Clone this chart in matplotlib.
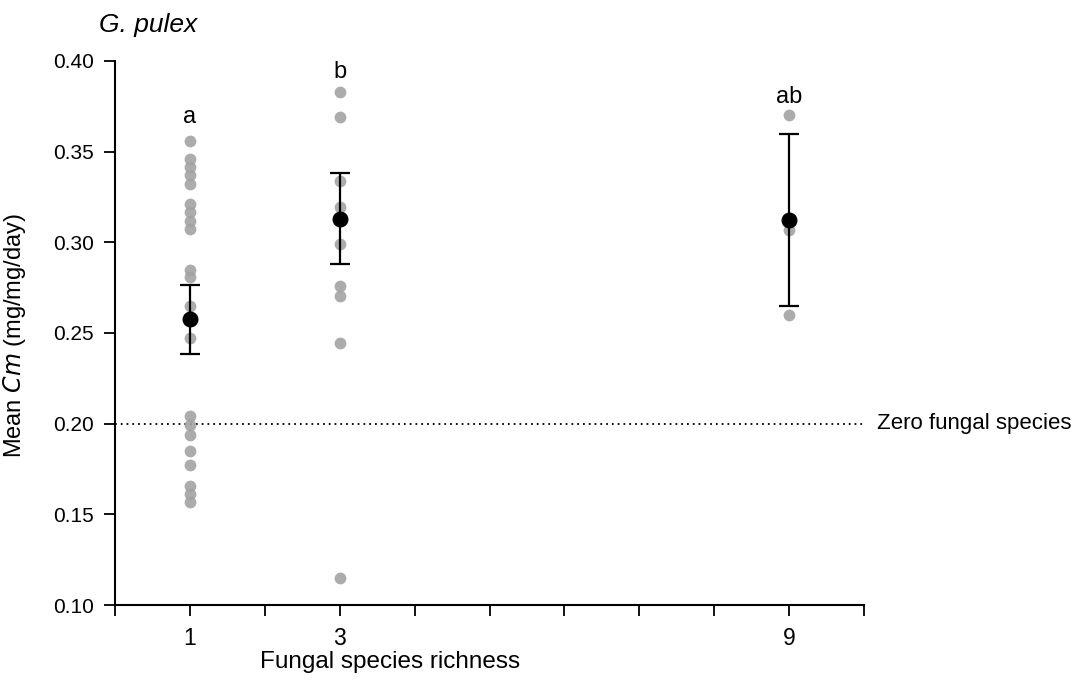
import numpy as np
import matplotlib.pyplot as plt

plt.rcParams['font.family'] = ['Liberation Sans', 'DejaVu Sans']

# raw replicate values (Cm, mg/mg/day)
richness = [1, 3, 9]
group1 = [0.356, 0.346, 0.3415, 0.337, 0.332, 0.321, 0.3165, 0.312, 0.3075,
          0.285, 0.281, 0.265, 0.2475, 0.204, 0.1995, 0.194, 0.185, 0.177,
          0.1655, 0.161, 0.157]
group3 = [0.383, 0.369, 0.334, 0.3195, 0.299, 0.276, 0.2705, 0.2445, 0.115]
group9 = [0.370, 0.307, 0.260]

# means and error bars
means = [0.2575, 0.313, 0.3125]
errors = [0.019, 0.025, 0.0475]

letters = ['a', 'b', 'ab']
letter_y = [0.369, 0.394, 0.380]

zero_fungi = 0.20

fig = plt.figure(figsize=(10.89, 6.83), dpi=100)
ax = fig.add_axes([0.1056, 0.1142, 0.6878, 0.7965])

# individual replicates in grey
for x, vals in zip(richness, [group1, group3, group9]):
    ax.plot([x] * len(vals), vals, 'o', color='#a3a3a3', markersize=8.5,
            markeredgewidth=0, alpha=0.9, zorder=2)

# means +/- error
ax.errorbar(richness, means, yerr=errors, fmt='o', color='black',
            markersize=10.5, elinewidth=1.6, capsize=7.5, capthick=1.6, zorder=3)

# zero fungal species reference line
ax.plot([0, 10], [zero_fungi, zero_fungi], color='black',
        linestyle=(0, (1, 2.2)), linewidth=1.3, zorder=1)
ax.text(10.18, zero_fungi, 'Zero fungal species', fontsize=16,
        va='center', ha='left', clip_on=False)

for x, lab, ly in zip(richness, letters, letter_y):
    ax.text(x, ly, lab, fontsize=17, ha='center', va='center')

ax.set_xlim(0, 10)
ax.set_ylim(0.10, 0.40)
ax.set_xticks(range(11))
ax.set_xticklabels(['', '1', '', '3', '', '', '', '', '', '9', ''])
ax.set_yticks([0.10, 0.15, 0.20, 0.25, 0.30, 0.35, 0.40])
ax.set_yticklabels(['0.10', '0.15', '0.20', '0.25', '0.30', '0.35', '0.40'])
ax.tick_params(axis='both', direction='out', length=8, width=1.3,
               labelsize=15, pad=7)
ax.tick_params(axis='x', pad=8, labelsize=16.5)

for s in ['top', 'right']:
    ax.spines[s].set_visible(False)
for s in ['left', 'bottom']:
    ax.spines[s].set_linewidth(1.5)

ax.set_xlabel('Fungal species richness', fontsize=17.5)
ax.xaxis.set_label_coords(0.367, -0.085)
ax.set_ylabel('Mean $\\it{Cm}$ (mg/mg/day)', fontsize=17)
ax.yaxis.set_label_coords(-0.116, 0.496)

fig.text(0.136, 0.964, 'G. pulex', fontsize=19, style='italic',
         ha='center', va='center')

plt.savefig('out.png', dpi=100)
